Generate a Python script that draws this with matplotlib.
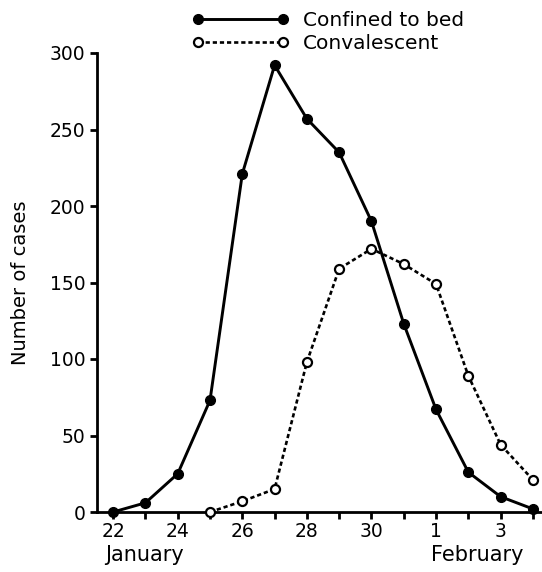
import matplotlib.pyplot as plt
import numpy as np

plt.rcParams["font.family"] = ["DejaVu Sans"]

# daily counts, 22 January to 4 February
days = np.arange(14)
day_labels = ["22", "", "24", "", "26", "", "28", "", "30", "", "1", "", "3", ""]
confined = [0, 6, 25, 73, 221, 292, 257, 235, 190, 123, 67, 26, 10, 2]
conv_days = np.arange(3, 14)
convalescent = [0, 7, 15, 98, 159, 172, 162, 149, 89, 44, 21]

fig = plt.figure(figsize=(5.42, 5.72), dpi=100)
ax = fig.add_axes([97 / 542, 60 / 572, 444 / 542, 459 / 572])

ax.plot(days, confined, "-", color="black", lw=2.1, marker="o",
        ms=7, mfc="black", mec="black", clip_on=False, zorder=3,
        label="Confined to bed")
ax.plot(conv_days, convalescent, color="black", lw=1.9, ls=(0, (1.6, 1.1)),
        marker="o", ms=6.5, mfc="white", mec="black", mew=1.6,
        clip_on=False, zorder=3, label="Convalescent")

ax.set_xlim(-0.5, 13.25)
ax.set_ylim(0, 300)
ax.set_xticks(days)
ax.set_xticklabels(day_labels)
ax.set_yticks(np.arange(0, 301, 50))
ax.spines[["top", "right"]].set_visible(False)
for s in ("left", "bottom"):
    ax.spines[s].set_linewidth(2)
ax.tick_params(axis="both", labelsize=13.5, width=2, length=5, direction="out")
ax.tick_params(axis="x", pad=2)
ax.set_ylabel("Number of cases", fontsize=14, labelpad=14)

ax.text(-0.25, -0.093, "January", transform=ax.get_xaxis_transform(),
        fontsize=15, ha="left", va="center")
ax.text(9.85, -0.093, "February", transform=ax.get_xaxis_transform(),
        fontsize=15, ha="left", va="center")

fig.legend(loc="upper left", bbox_to_anchor=(174 / 542, 1.012), frameon=False,
           numpoints=2, handlelength=4.8, handletextpad=0.7,
           labelspacing=0.2, fontsize=14.5)

fig.savefig("out.png", dpi=100)
